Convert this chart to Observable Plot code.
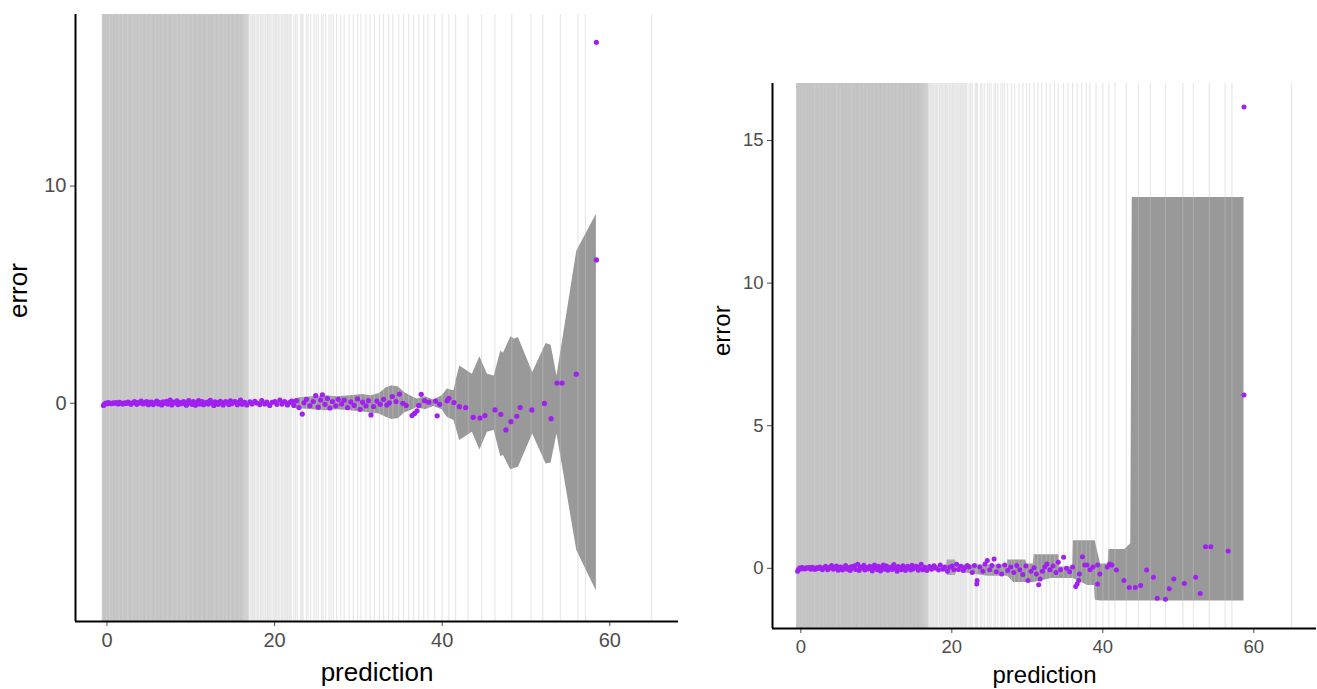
<!DOCTYPE html>
<html>
<head>
<meta charset="utf-8">
<script src="https://cdn.jsdelivr.net/npm/d3@7"></script>
<script src="https://cdn.jsdelivr.net/npm/@observablehq/plot@0.6"></script>
<style>
  html, body { margin: 0; padding: 0; background: #fff; }
  #wrap { display: flex; flex-direction: row; width: 1317px; height: 689px; }
  #left { width: 680px; height: 689px; }
  #right { width: 637px; height: 689px; }
  svg { display: block; }
</style>
</head>
<body>
<div id="wrap"><div id="left"></div><div id="right"></div></div>
<script>
// ---------- data ----------
const xTicks = [0, 20, 40, 60];
const leftYTicks = [0, 10];
const rightYTicks = [0, 5, 10, 15];

// dense cluster of predictions (shared by both panels)
const denseX = [-0.42,-0.31,-0.12,0.04,0.18,0.36,0.52,0.74,0.93,1.08,
  1.34,1.47,1.72,1.88,2.13,2.27,2.51,2.74,2.86,3.12,
  3.28,3.55,3.68,3.94,4.07,4.33,4.46,4.72,4.95,5.06,
  5.31,5.52,5.66,5.93,6.14,6.27,6.53,6.71,6.88,7.15,
  7.26,7.54,7.73,7.87,8.12,8.35,8.48,8.74,8.91,9.13,
  9.32,9.47,9.76,9.88,10.14,10.29,10.55,10.68,10.93,11.06,
  11.34,11.52,11.67,11.95,12.08,12.33,12.46,12.75,12.89,13.12,
  13.27,13.53,13.71,13.86,14.15,14.28,14.54,14.73,14.87,15.14,
  15.29,15.56,15.68,15.94,16.13,16.42,16.68,17.05,17.31,17.64,
  17.88,18.24,18.47,18.83,19.06,19.42,19.71,20.04,20.27,20.63,
  20.88,21.19,21.53,21.76,22.04];
const denseErr = [-0.1,-0.04,0.01,-0.02,0.03,0.0,-0.02,0.02,0.0,0.03,
  -0.03,0.04,0.01,-0.04,0.02,-0.01,0.05,0.0,-0.05,0.03,
  0.07,-0.05,0.03,0.01,0.1,-0.03,0.02,0.08,-0.07,0.04,
  0.05,-0.06,0.01,0.1,-0.03,0.03,-0.08,0.06,0.0,0.09,
  -0.04,0.14,-0.08,0.05,0.02,0.11,-0.06,0.03,-0.02,0.07,
  0.04,-0.09,0.12,0.01,-0.05,0.07,-0.09,0.03,0.12,-0.03,
  0.08,-0.07,0.02,0.05,-0.04,0.13,0.01,-0.1,0.06,0.03,
  -0.05,0.09,0.01,-0.08,0.07,0.03,-0.06,0.11,-0.02,0.05,
  0.07,-0.07,0.03,0.14,-0.05,0.04,-0.08,0.06,-0.03,0.09,
  0.01,-0.06,0.12,-0.03,0.05,-0.1,0.04,0.08,-0.05,0.14,
  -0.04,0.07,-0.08,0.03,0.1];

// left panel, sparse predictions
const leftX = [22.3,22.6,22.9,23.3,23.5,23.8,24.2,24.6,24.9,25.2,
  25.5,25.7,26.0,26.3,26.6,26.9,27.3,27.6,28.0,28.3,
  28.7,29.1,29.5,29.9,30.2,30.5,30.9,31.2,31.5,31.8,
  32.2,32.6,33.0,33.4,33.7,34.05,34.5,34.9,35.3,35.7,
  36.4,36.7,37.0,37.2,37.5,37.9,38.4,39.2,39.4,39.7,
  40.6,40.8,41.4,42.05,42.8,43.7,44.5,45.1,46.3,47.0,
  47.6,48.2,48.9,49.3,50.7,52.2,53.0,53.7,54.3,56.0,
  58.4,58.4];
const leftErr = [-0.1,0.12,-0.2,-0.5,0.02,0.18,-0.12,0.08,0.35,-0.18,
  0.15,0.39,-0.05,0.22,-0.22,0.08,-0.12,0.18,-0.03,0.14,
  -0.2,0.06,-0.1,0.2,-0.28,0.05,-0.12,0.12,-0.54,-0.15,
  0.1,-0.05,0.18,-0.08,0.02,0.31,0.08,0.42,0.0,-0.1,
  -0.57,-0.47,-0.35,-0.1,0.41,0.12,0.05,0.1,-0.58,-0.05,
  0.12,0.23,0.03,-0.16,-0.2,-0.65,-0.68,-0.57,-0.31,-0.51,
  -1.23,-0.85,-0.6,-0.2,-0.31,-0.01,-0.71,0.93,0.93,1.34,
  6.6,16.62];

// right panel, sparse predictions
const rightX = [22.3,22.7,23.0,23.3,23.35,23.7,24.1,24.4,24.7,25.0,
  25.3,25.6,25.9,26.2,26.6,27.0,27.4,27.8,28.2,28.6,
  29.0,29.4,29.8,30.1,30.5,30.9,31.2,31.5,31.7,32.0,
  32.3,32.6,33.0,33.4,33.8,34.1,34.4,34.8,35.2,35.6,
  36.0,36.4,36.6,36.8,36.9,37.3,37.6,37.9,38.3,38.7,
  39.3,39.3,39.6,40.6,40.9,41.2,41.8,42.8,43.5,44.3,
  45.0,45.8,46.7,47.2,48.3,48.8,49.4,50.8,52.3,52.9,
  53.6,54.3,56.6,58.7,58.7];
const rightErr = [0.05,-0.15,0.1,-0.55,-0.43,0.05,-0.1,0.15,0.27,-0.05,
  0.1,0.33,-0.12,0.08,-0.2,0.12,-0.08,0.05,-0.15,0.1,
  -0.05,-0.22,0.08,-0.43,-0.1,0.02,-0.2,-0.58,-0.37,-0.1,
  0.05,0.15,-0.05,0.08,-0.15,0.21,-0.05,0.39,0.0,-0.12,
  0.05,-0.64,-0.55,-0.43,-0.2,0.41,0.12,0.12,-0.05,0.05,
  -0.55,0.12,-0.2,0.05,0.15,0.12,-0.06,-0.43,-0.67,-0.67,
  -0.6,-0.06,-0.31,-1.05,-1.08,-0.72,-0.37,-0.53,-0.31,-0.88,
  0.76,0.76,0.61,6.08,16.18];

// left panel band
const bandLX = [21.8,23,24.5,26,27.5,29,30.5,31.5,32.5,33.3,
  34.0,34.8,35.5,36.2,37.0,38.0,39.0,40.0,40.6,41.4,
  41.7,42.1,43.6,44.5,45.4,46.2,47.0,47.3,48.2,48.6,
  49.1,50.8,52.4,53.0,53.7,56.06,58.4];
const bandLHi = [0.1,0.25,0.3,0.35,0.3,0.35,0.4,0.35,0.45,0.7,
  0.8,0.75,0.5,0.35,0.2,0.3,0.15,0.35,0.65,0.57,
  1.11,1.72,1.34,2.14,1.34,1.26,2.41,2.3,3.06,2.95,
  3.03,1.42,2.75,2.67,1.26,7.0,8.7];
const bandLLo = [-0.1,-0.25,-0.3,-0.35,-0.3,-0.35,-0.4,-0.45,-0.5,-0.65,
  -0.75,-0.7,-0.45,-0.35,-0.2,-0.3,-0.15,-0.3,-0.65,-0.8,
  -1.2,-1.72,-1.34,-2.15,-1.34,-1.26,-2.46,-2.4,-3.07,-3.0,
  -2.95,-1.42,-2.8,-2.75,-1.42,-6.78,-8.65];

// right panel band
const bandRX = [-0.5,19.3,19.4,20.5,20.6,24.8,27.3,27.4,28.2,29.8,
  29.9,30.8,30.9,33.2,34.2,34.3,36.0,36.1,38.0,38.9,
  39.0,39.7,40.7,40.8,42.9,43.7,43.9,58.7];
const bandRHi = [0.1,0.1,0.29,0.29,0.12,0.12,0.12,0.29,0.29,0.29,
  0.15,0.15,0.48,0.48,0.48,0.05,0.05,0.97,0.97,0.97,
  0.97,0.15,0.15,0.66,0.66,0.86,13.0,13.0];
const bandRLo = [-0.1,-0.1,-0.25,-0.25,-0.12,-0.28,-0.28,-0.28,-0.5,-0.5,
  -0.5,-0.5,-0.5,-0.36,-0.36,-0.36,-0.36,-0.36,-0.6,-0.6,
  -1.12,-1.15,-1.15,-1.15,-1.15,-1.15,-1.15,-1.15];

// vertical reference lines (predictions of the full set)
const rugDense = [-0.5,-0.44,-0.3,-0.22,-0.08,0.05,0.13,0.27,0.42,0.5,0.62,0.77,0.85,0.98,1.12,1.2,1.33,1.47,1.6,1.68,
  1.82,1.97,2.05,2.2,2.28,2.42,2.57,2.68,2.8,2.88,3.05,3.17,3.28,3.4,3.54,3.65,3.73,3.9,4.02,4.12,
  4.27,4.38,4.5,4.58,4.75,4.87,5.0,5.08,5.22,5.37,5.48,5.6,5.68,5.85,5.97,6.08,6.2,6.34,6.45,6.53,
  6.7,6.82,6.95,7.03,7.18,7.32,7.42,7.55,7.63,7.8,7.92,8.05,8.13,8.28,8.42,8.52,8.65,8.73,8.9,9.02,
  9.12,9.27,9.38,9.5,9.58,9.75,9.87,10.0,10.08,10.22,10.37,10.48,10.6,10.68,10.85,10.97,11.1,11.18,11.32,11.47,
  11.58,11.7,11.78,11.95,12.07,12.18,12.3,12.44,12.55,12.63,12.8,12.92,13.05,13.13,13.28,13.42,13.52,13.65,13.73,13.9,
  14.02,14.12,14.25,14.4,14.5,14.58,14.75,14.87,15.0,15.08,15.22,15.37,15.48,15.6,15.68,15.85,15.97,16.1,16.27,16.4,
  16.62,16.8];
const rugSparse = [17.05,17.2,17.35,17.5,17.62,17.8,17.95,18.1,18.3,18.42,18.6,18.75,18.92,19.1,19.2,19.35,19.5,19.68,19.85,20.02,
  20.15,20.3,20.45,20.62,20.8,20.95,21.12,21.25,21.4,21.55,21.72,21.85,22.0,
  22.3,22.5,22.7,23.1,23.25,23.4,23.8,24.0,24.3,24.7,24.95,25.2,25.6,25.8,26.1,26.5,26.75,27.0,27.4,27.9,28.3,28.9,29.4,29.9,30.3,30.9,
  31.4,31.9,32.5,33.0,33.6,34.1,34.8,35.4,36.0,36.6,37.2,37.8,38.3,39.1,40.0,40.8,41.6,43.1,44.7,46.3,
  48.3,50.6,52.0,54.1,56.2,57.1,65.0];

// ---------- build tables ----------
const zip = (xs, ys) => xs.map((x, i) => ({x, y: ys[i]}));
const band = (xs, lo, hi) => xs.map((x, i) => ({x, lo: lo[i], hi: hi[i]}));
const densePts = zip(denseX, denseErr);
const leftPts = densePts.concat(zip(leftX, leftErr));
const rightPts = densePts.concat(zip(rightX, rightErr));
const leftBand = band(bandLX, bandLLo, bandLHi);
const rightBand = band(bandRX, bandRLo, bandRHi);

const FONT = "'Liberation Sans', Arial, Helvetica, sans-serif";

function panel(o) {
  return Plot.plot({
    width: o.width, height: 689,
    marginLeft: o.ml, marginRight: o.mr, marginTop: o.mt, marginBottom: o.mb,
    x: {domain: o.xDom},
    y: {domain: o.yDom},
    style: {fontFamily: FONT, background: "white", overflow: "visible"},
    marks: [
      Plot.areaY(o.band, {x: "x", y1: "lo", y2: "hi", fill: "#999999", curve: "linear"}),
      Plot.ruleX(rugDense, {stroke: "#bdbdbd", strokeOpacity: 0.6, strokeWidth: 2.2}),
      Plot.ruleX(rugSparse, {stroke: "#c4c4c4", strokeOpacity: 0.4, strokeWidth: 1.2}),
      Plot.dot(o.pts, {x: "x", y: "y", r: o.r, fill: "#a020f0", stroke: null}),
      Plot.axisX({ticks: xTicks, tickSize: 5, tickPadding: 6, fontSize: o.tickFont, color: "#4d4d4d", label: null}),
      Plot.axisY({ticks: o.yTicks, tickSize: 5, tickPadding: 4, fontSize: o.tickFont, color: "#4d4d4d", label: null}),
      Plot.ruleX([o.xDom[0]], {stroke: "black", strokeWidth: 2}),
      Plot.ruleY([o.yDom[0]], {stroke: "black", strokeWidth: 2}),
      Plot.text(["prediction"], {frameAnchor: "bottom", dy: o.xtDy, fontSize: o.titleFont, fill: "black"}),
      Plot.text(["error"], {frameAnchor: "left", dx: o.ytDx, rotate: -90, fontSize: o.titleFont, fill: "black"})
    ]
  });
}

document.getElementById("left").appendChild(panel({
  width: 680, ml: 75, mr: 2, mt: 14, mb: 68,
  xDom: [-3.76, 68.2], yDom: [-10.05, 17.9], yTicks: leftYTicks,
  band: leftBand, pts: leftPts, r: 2.6,
  tickFont: 20, titleFont: 26, xtDy: 59, ytDx: -57
}));
document.getElementById("right").appendChild(panel({
  width: 637, ml: 92, mr: 1, mt: 83, mb: 61,
  xDom: [-3.75, 68.3], yDom: [-2.11, 17.0], yTicks: rightYTicks,
  band: rightBand, pts: rightPts, r: 2.5,
  tickFont: 18.5, titleFont: 24, xtDy: 54, ytDx: -50
}));
</script>
</body>
</html>
